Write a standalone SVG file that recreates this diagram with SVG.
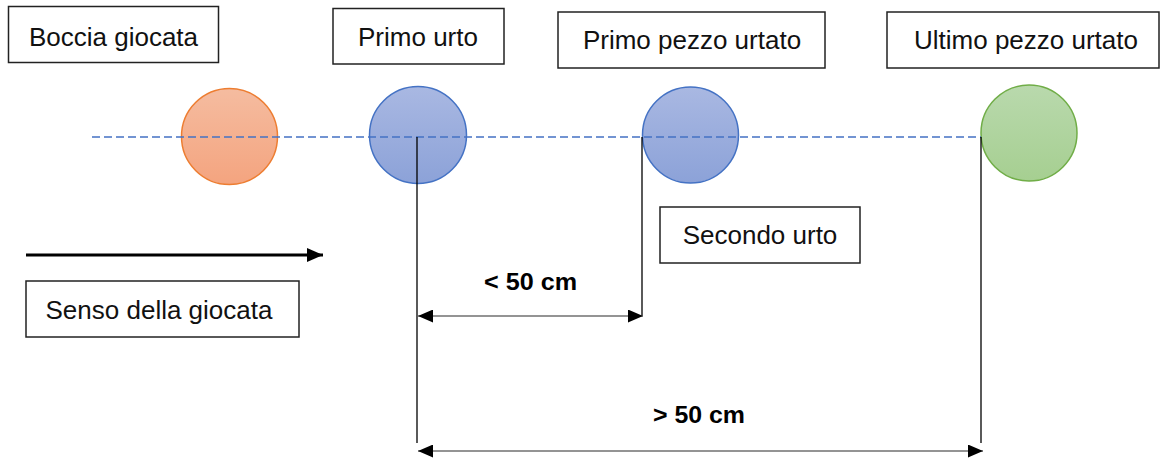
<svg xmlns="http://www.w3.org/2000/svg" width="1161" height="462" viewBox="0 0 1161 462">
<defs>
<linearGradient id="gOr" x1="0" y1="0" x2="0" y2="1"><stop offset="0" stop-color="#F5BCA0"/><stop offset="1" stop-color="#F4A47F"/></linearGradient>
<linearGradient id="gBl" x1="0" y1="0" x2="0" y2="1"><stop offset="0" stop-color="#A9B8E2"/><stop offset="1" stop-color="#8CA2D8"/></linearGradient>
<linearGradient id="gGr" x1="0" y1="0" x2="0" y2="1"><stop offset="0" stop-color="#B9D9AD"/><stop offset="1" stop-color="#A6CF91"/></linearGradient>
<marker id="ah" viewBox="0 0 15 13" refX="15" refY="6.5" markerWidth="15" markerHeight="13" markerUnits="userSpaceOnUse" orient="auto-start-reverse"><path d="M0,0 L15,6.5 L0,13 Z" fill="#000"/></marker>
<marker id="ahBig" viewBox="0 0 16 14" refX="16" refY="7" markerWidth="16" markerHeight="14" markerUnits="userSpaceOnUse" orient="auto"><path d="M0,0 L16,7 L0,14 Z" fill="#000"/></marker>
</defs>
<style>
.box{fill:#fff;stroke:#222;stroke-width:1.5}
.lbl{font-family:"Liberation Sans",Arial,sans-serif;font-size:26px;fill:#111;text-anchor:middle}
.dim{font-family:"Liberation Sans",Arial,sans-serif;font-size:23px;font-weight:bold;fill:#000}
.vl{stroke:#000;stroke-width:1.3;fill:none}
.dl{stroke:#707070;stroke-width:1.3;fill:none}
</style>
<rect width="1161" height="462" fill="#fff"/>
<g id="boccia-giocata"><rect class="box" x="8.5" y="6.5" width="210" height="56"/><text class="lbl" x="113.5" y="46">Boccia giocata</text></g>
<g id="primo-urto"><rect class="box" x="333" y="8.5" width="171" height="55.5"/><text class="lbl" x="418" y="46">Primo urto</text></g>
<g id="primo-pezzo-urtato"><rect class="box" x="558" y="12" width="267" height="56"/><text class="lbl" x="692" y="49">Primo pezzo urtato</text></g>
<g id="ultimo-pezzo-urtato"><rect class="box" x="887" y="12" width="272" height="56"/><text class="lbl" x="1026" y="49">Ultimo pezzo urtato</text></g>
<g id="secondo-urto"><rect class="box" x="660" y="207" width="200" height="56"/><text class="lbl" x="760" y="244">Secondo urto</text></g>
<g id="senso-della-giocata"><rect class="box" x="26" y="281" width="273" height="56"/><text class="lbl" x="159" y="319">Senso della giocata</text></g>
<g id="ball-played"><circle cx="229.5" cy="136.5" r="48" fill="url(#gOr)" stroke="#ED7D31" stroke-width="1.5"/></g>
<g id="ball-first"><circle cx="418" cy="135" r="48.5" fill="url(#gBl)" stroke="#4472C4" stroke-width="1.5"/></g>
<g id="ball-second"><circle cx="690.5" cy="135" r="48" fill="url(#gBl)" stroke="#4472C4" stroke-width="1.5"/></g>
<g id="ball-last"><circle cx="1029" cy="133" r="48" fill="url(#gGr)" stroke="#70AD47" stroke-width="1.5"/></g>
<g id="connectors">
<line x1="92" y1="137" x2="981" y2="137" stroke="#4472C4" stroke-width="1.3" stroke-dasharray="8,4"/>
<line class="vl" x1="417" y1="137" x2="417" y2="443"/>
<line class="vl" x1="642" y1="137" x2="642" y2="316"/>
<line class="vl" x1="981" y1="137" x2="981" y2="443"/>
<line class="dl" x1="418" y1="316" x2="643" y2="316" marker-start="url(#ah)" marker-end="url(#ah)"/>
<line class="dl" x1="418" y1="451" x2="983" y2="451" marker-start="url(#ah)" marker-end="url(#ah)"/>
<line x1="26" y1="255" x2="323" y2="255" stroke="#000" stroke-width="3" marker-end="url(#ahBig)"/>
</g>
<text class="dim" x="484" y="290" textLength="93" lengthAdjust="spacingAndGlyphs">&lt; 50 cm</text>
<text class="dim" x="653" y="423" textLength="92" lengthAdjust="spacingAndGlyphs">&gt; 50 cm</text>
</svg>
